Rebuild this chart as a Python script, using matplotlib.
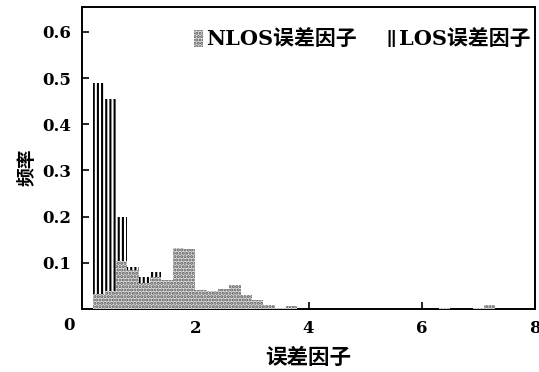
import matplotlib
matplotlib.use("Agg")
import matplotlib.pyplot as plt

plt.rcParams['font.family'] = ['DejaVu Serif', 'Noto Sans CJK SC']
plt.rcParams['font.weight'] = 'bold'
plt.rcParams['hatch.linewidth'] = 1.5

# data
bin_width = 0.2
nlos_centers = [0.3, 0.5, 0.7, 0.9, 1.1, 1.3, 1.5, 1.7, 1.9, 2.1, 2.3, 2.5,
                2.7, 2.9, 3.1, 3.3, 3.5, 3.7, 6.4, 7.0, 7.2]
nlos_freq = [0.032, 0.039, 0.104, 0.084, 0.056, 0.069, 0.063, 0.132, 0.130,
             0.041, 0.039, 0.043, 0.052, 0.030, 0.020, 0.008, 0.003, 0.007,
             0.002, 0.002, 0.008]
los_centers = [0.3, 0.5, 0.7, 0.9, 1.1, 1.3]
los_freq = [0.490, 0.455, 0.200, 0.091, 0.069, 0.080]
x_ticks = [2, 4, 6, 8]
y_ticks = [0.1, 0.2, 0.3, 0.4, 0.5, 0.6]

fig = plt.figure(figsize=(5.39, 3.72), dpi=100)
ax = fig.add_axes([82/539, 1-309/372, (535-82)/539, (309-7)/372])

ax.bar(los_centers, los_freq, width=bin_width, color='white', edgecolor='black',
       linewidth=0, hatch='||||', label='LOS误差因子', zorder=2)
ax.bar(nlos_centers, nlos_freq, width=bin_width, color='#e0e0e0', edgecolor='#555555',
       linewidth=0, hatch='.....', label='NLOS误差因子', zorder=3)

ax.set_xlim(0, 8)
ax.set_ylim(0, 0.654)
ax.set_xticks(x_ticks)
ax.set_yticks(y_ticks)
ax.set_yticklabels([f"{v:.1f}" for v in y_ticks])
ax.tick_params(direction='in', length=5, width=1.2, labelsize=12, pad=8)
ax.tick_params(axis='y', pad=8)
ax.annotate('0', xy=(0, 0), xycoords='data', xytext=(-13, -17), textcoords='offset pixels',
            ha='center', va='center', fontsize=12, fontweight='bold')
for s in ax.spines.values():
    s.set_linewidth(1.4)

ax.set_xlabel('误差因子', fontsize=15.5, fontweight='bold', labelpad=7)
ax.set_ylabel('频率', fontsize=13.5, fontweight='bold')
ax.yaxis.set_label_coords(-0.1, 0.47)

handles, labels = ax.get_legend_handles_labels()
ax.legend(handles[::-1], labels[::-1], loc='upper right', bbox_to_anchor=(1.04, 1.0),
          ncol=2, frameon=False,
          handlelength=0.45, handleheight=0.9, handletextpad=0.12,
          columnspacing=1.45, borderaxespad=0.9, borderpad=0.2,
          prop={'weight': 'bold', 'size': 15})

fig.savefig('out.png', dpi=100)
